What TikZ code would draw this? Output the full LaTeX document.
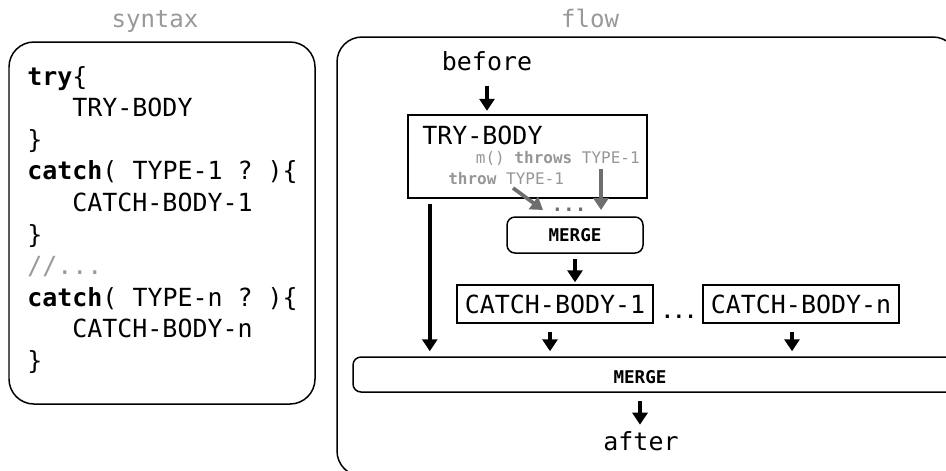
\documentclass[tikz,border=0pt]{standalone}
\usepackage{fontspec}
\setmonofont{DejaVu Sans Mono}
\usetikzlibrary{arrows.meta, positioning, calc}
\definecolor{headcolor}{HTML}{999999}
\definecolor{notecolor}{HTML}{969696}
\definecolor{throwcolor}{HTML}{6E6E6E}
\def\lh{0.632}
\def\cx{0.54}
\frenchspacing

\begin{document}
\begin{tikzpicture}[
    every node/.style={font=\ttfamily\fontsize{14.2}{17}\selectfont, inner sep=0pt},
    head/.style={font=\ttfamily\fontsize{13.7}{16}\selectfont, text=headcolor},
    panel/.style={draw, rounded corners=0.5cm, line width=0.85pt},
    trybox/.style={draw, line width=1.4pt, minimum width=4.78cm, minimum height=1.66cm},
    bodybox/.style={draw, line width=0.85pt, minimum width=3.92cm, minimum height=0.76cm},
    joinbox/.style={draw, rounded corners=0.16cm, line width=0.85pt,
                    font=\ttfamily\bfseries\fontsize{10}{12}\selectfont},
    joinlbl/.style={font=\ttfamily\bfseries\fontsize{10}{12}\selectfont},
    note/.style={font=\ttfamily\fontsize{9.1}{11}\selectfont, text=notecolor},
    dots/.style={font=\ttfamily\bfseries\fontsize{11}{13}\selectfont},
    arr/.style={-{Triangle[length=0.24cm, width=0.3cm]}, line width=2pt},
    throwarr/.style={-{Triangle[length=0.24cm, width=0.3cm]}, line width=2.1pt, throwcolor},
]
\clip (0,0) rectangle (18.92,-9.40);

% ---------------------------------------------------------- syntax
\node[head, anchor=base] (synhead) at (3.10,-0.54) {syntax};
\draw[panel] (0.18,-0.84) rectangle (6.30,-8.08);
\foreach \ind/\txt [count=\i from 0] in
    {0/{\textbf{try}\{}, 1/TRY-BODY, 0/\},
     0/{\textbf{catch}( TYPE-1 ? )\{}, 1/CATCH-BODY-1, 0/\},
     0/{\textcolor{headcolor}{//...}},
     0/{\textbf{catch}( TYPE-n ? )\{}, 1/CATCH-BODY-n, 0/\}} {
  \node[anchor=base west] (code\i) at (\cx+\ind*0.9, -1.70-\i*\lh) {\txt};
}

% ---------------------------------------------------------- flow
\node[head, anchor=base] (flowhead) at (11.80,-0.54) {flow};
\draw[panel] (6.74,-0.74) rectangle (19.16,-9.52);

\node[anchor=base] (before) at (9.74,-1.40) {before};
\node[trybox] (tryb) at (10.55,-3.13) {};
\node[anchor=base west] (trytxt) at (8.44,-2.88) {TRY-BODY};
\node[note, anchor=base east] (throws) at (12.80,-3.26)
    {m() \textbf{throws} TYPE-1};
\node[note, anchor=base west] (throw) at (8.96,-3.68)
    {\textbf{throw} TYPE-1};
\node[dots, text=throwcolor, anchor=base] (gdots) at (11.38,-4.22) {...};

\node[joinbox, minimum width=2.72cm, minimum height=0.72cm] (merge1)
    at (11.50,-4.70) {MERGE};

\node[bodybox] (catch1) at (11.10,-6.08) {CATCH-BODY-1};
\node[dots, anchor=base] (bdots) at (13.58,-6.36) {...};
\node[bodybox] (catchn) at (16.02,-6.08) {CATCH-BODY-n};

\node[joinbox, minimum width=12.44cm, minimum height=0.70cm] (mergebox)
    at (13.28,-7.49) {};
\node[joinlbl] (mergelbl) at (12.80,-7.54) {MERGE};

\node[anchor=base] (after) at (12.82,-9.00) {after};

% ---------------------------------------------------------- arrows
\draw[arr, shorten <=0.3cm, shorten >=0.06cm] (before.south) -- (before.south |- tryb.north);

% exceptions raised inside the try body
\coordinate (thr1) at (10.26,-3.76);
\coordinate (thr1end) at (10.86,-4.20);
\coordinate (thr2) at (12.02,-3.38);
\coordinate (thr2end) at (12.02,-4.20);
\draw[throwarr] (thr1) -- (thr1end);
\draw[throwarr] (thr2) -- (thr2end);

\draw[arr, shorten <=0.1cm, shorten >=0.04cm] (merge1.south) -- (merge1.south |- catch1.north);

\coordinate (tryout) at ([xshift=0.46cm, yshift=-0.1cm]tryb.south west);
\coordinate (c1out) at ([xshift=-0.1cm, yshift=-0.16cm]catch1.south);
\coordinate (cnout) at ([xshift=-0.18cm, yshift=-0.16cm]catchn.south);
\foreach \src in {tryout, c1out, cnout} {
  \draw[arr, shorten >=0.1cm] (\src) -- (\src |- mergebox.north);
}

\draw[arr, shorten <=0.16cm, shorten >=0.12cm] (mergelbl |- mergebox.south) -- (mergelbl |- after.north);

\end{tikzpicture}
\end{document}
